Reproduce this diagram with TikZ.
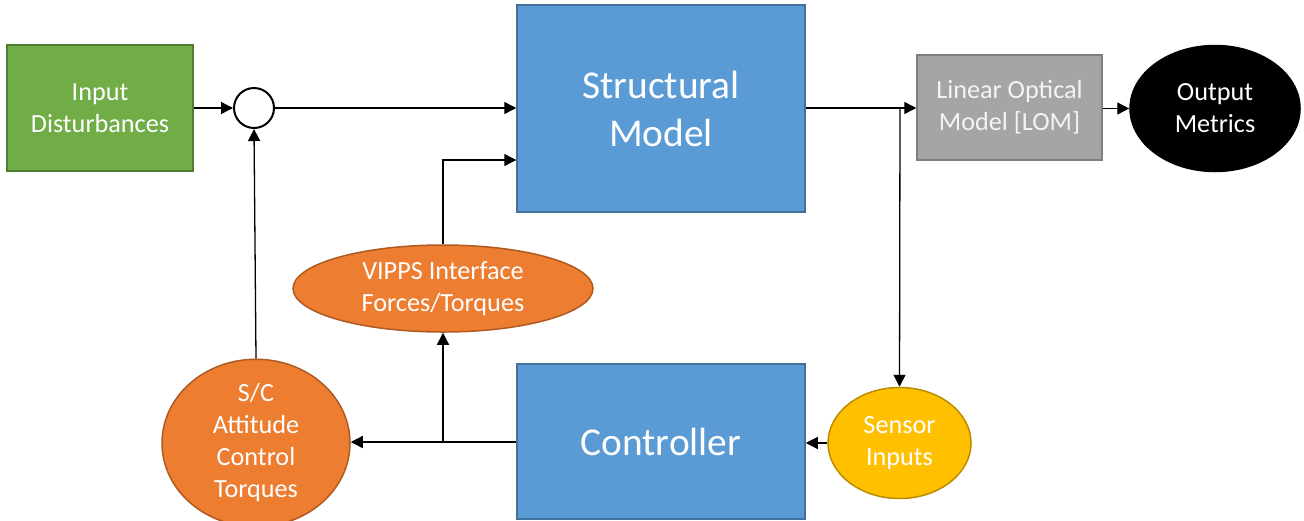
\documentclass[tikz,border=0pt]{standalone}
\usepackage{fontspec}
\setmainfont{Carlito}
\usetikzlibrary{arrows.meta,shapes.geometric}
\definecolor{cgreen}{HTML}{70AD47}
\definecolor{cgreenb}{HTML}{507E32}
\definecolor{cblue}{HTML}{5B9BD5}
\definecolor{cblueb}{HTML}{41719C}
\definecolor{cgray}{HTML}{A5A5A5}
\definecolor{cgrayb}{HTML}{7F7F7F}
\definecolor{corange}{HTML}{ED7D31}
\definecolor{corangeb}{HTML}{AE5A21}
\definecolor{cyellow}{HTML}{FFC000}
\definecolor{cyellowb}{HTML}{BC8C00}
\definecolor{ltext}{HTML}{F4F4F4}
\tikzset{
  small/.style={font=\fontsize{13.1}{16}\selectfont, text=white, align=center},
  big/.style={font=\fontsize{19.7}{24}\selectfont, text=white, align=center},
  boxnode/.style={rectangle, draw, line width=0.75pt, inner sep=0pt},
  ellnode/.style={ellipse, draw, line width=0.75pt, inner sep=0pt},
  arr/.style={draw=black, line width=0.65pt, -{Triangle[length=6pt,width=6pt]}},
  plain/.style={draw=black, line width=0.65pt}
}
\begin{document}
\begin{tikzpicture}[x=0.5pt,y=-0.5pt]
\useasboundingbox (0,0) rectangle (1304,520);
% nodes
\node[boxnode, small, fill=cgreen, draw=cgreenb, minimum width=93pt, minimum height=63pt] (inp) at (100,108) {Input\\Disturbances};
\node[circle, draw=black, line width=1pt, fill=white, minimum size=20pt, inner sep=0pt] (sum) at (254,108) {};
\node[boxnode, big, fill=cblue, draw=cblueb, minimum width=144pt, minimum height=103.5pt] (sm) at (661,108.5) {Structural\\Model};
\node[boxnode, small, text=ltext, fill=cgray, draw=cgrayb, minimum width=92.5pt, minimum height=52.5pt] (lom) at (1009.5,107.5) {Linear Optical\\Model [LOM]};
\node[ellnode, small, fill=black, draw=black, minimum width=85pt, minimum height=63pt] (out) at (1215,108.5) {Output\\Metrics};
\node[ellnode, small, fill=corange, draw=corangeb, minimum width=150pt, minimum height=43.5pt] (vipps) at (443,288.5) {VIPPS Interface\\Forces/Torques};
\node[ellnode, small, fill=corange, draw=corangeb, minimum width=94pt, minimum height=76pt] (sc) at (256,443) {S/C\\Attitude\\Control\\Torques};
\node[boxnode, big, fill=cblue, draw=cblueb, minimum width=144pt, minimum height=77.5pt] (ctrl) at (661,441.5) {Controller};
\node[ellnode, small, fill=cyellow, draw=cyellowb, minimum width=71.5pt, minimum height=55.5pt] (sens) at (899.5,443) {Sensor\\Inputs};
\coordinate (j1) at (443,160);
\coordinate (j2) at (443,442);
\coordinate (j3) at (900,108);
% connectors
\draw[arr] (inp.east |- sum.west) -- (sum.west);
\draw[arr] (sum.east) -- (sum.east -| sm.west);
\draw[arr] (sc.north) -- (sum.south);
\draw[arr] (vipps.north) -- (j1) -- (j1 -| sm.west);
\draw[arr] (ctrl.west |- j2) -- (j2 -| sc.east);
\draw[arr] (j2) -- (vipps.south);
\draw[arr] (sm.east |- j3) -- (j3 -| lom.west);
\draw[arr] (j3) -- (sens.north);
\draw[arr] (lom.east |- out.west) -- (out.west);
\draw[arr] (sens.west) -- (sens.west -| ctrl.east);
\end{tikzpicture}
\end{document}
